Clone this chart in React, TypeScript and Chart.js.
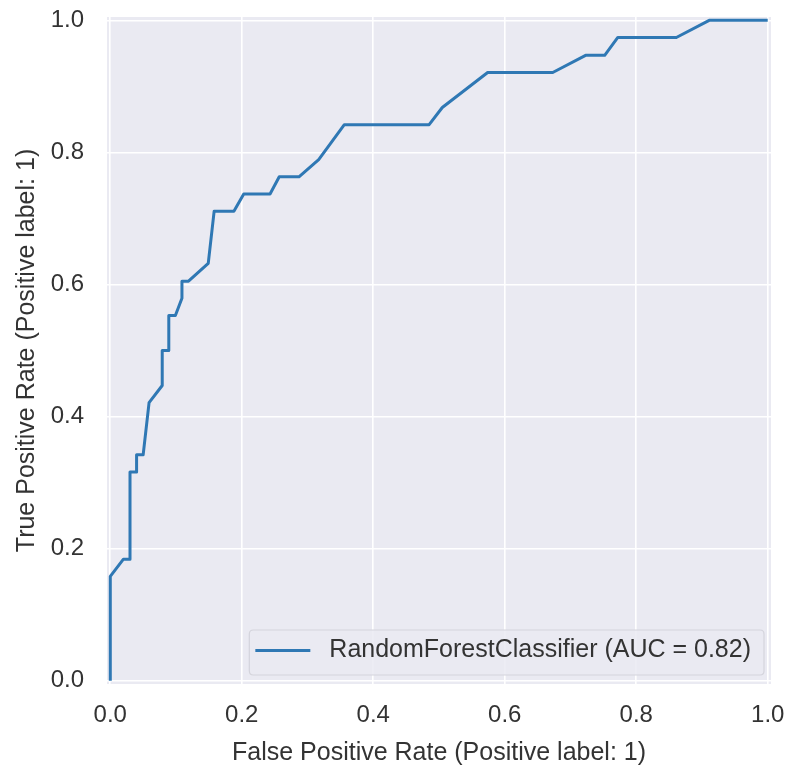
import React, { useEffect, useRef } from "react";
import { Chart, registerables } from "chart.js";

Chart.register(...registerables);

// ROC curve points
const fpr = [0, 0, 0.020, 0.030, 0.030, 0.040, 0.040, 0.050, 0.059, 0.079, 0.079, 0.089, 0.089, 0.099, 0.109, 0.109, 0.119, 0.149, 0.158, 0.188, 0.203, 0.243, 0.257, 0.287, 0.317, 0.356, 0.485, 0.505, 0.574, 0.673, 0.723, 0.752, 0.772, 0.861, 0.911, 1.0];
const tpr = [0, 0.158, 0.184, 0.184, 0.316, 0.316, 0.342, 0.342, 0.421, 0.447, 0.500, 0.500, 0.553, 0.553, 0.579, 0.605, 0.605, 0.632, 0.711, 0.711, 0.737, 0.737, 0.763, 0.763, 0.789, 0.842, 0.842, 0.868, 0.921, 0.921, 0.947, 0.947, 0.974, 0.974, 1.0, 1.0];

const xTickValues = [0, 0.2, 0.4, 0.6, 0.8, 1.0];
const yTickValues = [0, 0.2, 0.4, 0.6, 0.8, 1.0];

const seriesLabel = "RandomForestClassifier (AUC = 0.82)";
const xTitle = "False Positive Rate (Positive label: 1)";
const yTitle = "True Positive Rate (Positive label: 1)";

const FONT = "'Liberation Sans', Arial, sans-serif";
const TEXT = "#333333";
const LINE = "#2f78b4";

const bgPlugin = {
  id: "bgPlugin",
  beforeDraw(chart: any) {
    const { ctx, chartArea, width, height } = chart;
    ctx.save();
    ctx.fillStyle = "#ffffff";
    ctx.fillRect(0, 0, width, height);
    ctx.fillStyle = "#eaeaf2";
    ctx.fillRect(chartArea.left, chartArea.top, chartArea.right - chartArea.left, chartArea.bottom - chartArea.top);
    ctx.restore();
  },
};

const legendPlugin = {
  id: "legendInside",
  afterDraw(chart: any) {
    const { ctx, chartArea } = chart;
    const ds = chart.data.datasets[0];
    ctx.save();
    ctx.font = `25px ${FONT}`;
    const tw = ctx.measureText(ds.label).width;
    const boxRight = chartArea.right - 7;
    const boxBottom = chartArea.bottom - 9;
    const boxTop = boxBottom - 45;
    const textX = boxRight - 13 - tw;
    const boxLeft = textX - 80;
    const cy = (boxTop + boxBottom) / 2 - 2;
    const r = 4;
    ctx.beginPath();
    ctx.moveTo(boxLeft + r, boxTop);
    ctx.lineTo(boxRight - r, boxTop);
    ctx.quadraticCurveTo(boxRight, boxTop, boxRight, boxTop + r);
    ctx.lineTo(boxRight, boxBottom - r);
    ctx.quadraticCurveTo(boxRight, boxBottom, boxRight - r, boxBottom);
    ctx.lineTo(boxLeft + r, boxBottom);
    ctx.quadraticCurveTo(boxLeft, boxBottom, boxLeft, boxBottom - r);
    ctx.lineTo(boxLeft, boxTop + r);
    ctx.quadraticCurveTo(boxLeft, boxTop, boxLeft + r, boxTop);
    ctx.closePath();
    ctx.fillStyle = "rgba(234,234,242,0.85)";
    ctx.fill();
    ctx.strokeStyle = "#d4d4dc";
    ctx.lineWidth = 1.2;
    ctx.stroke();
    ctx.beginPath();
    ctx.moveTo(textX - 74, cy);
    ctx.lineTo(textX - 19, cy);
    ctx.strokeStyle = ds.borderColor;
    ctx.lineWidth = 3;
    ctx.stroke();
    ctx.fillStyle = TEXT;
    ctx.textBaseline = "middle";
    ctx.textAlign = "left";
    ctx.fillText(ds.label, textX, cy);
    ctx.restore();
  },
};

export default function App() {
  const ref = useRef<HTMLCanvasElement | null>(null);
  useEffect(() => {
    if (!ref.current) return;
    const chart = new Chart(ref.current, {
      type: "line",
      data: {
        datasets: [
          {
            label: seriesLabel,
            data: fpr.map((x, i) => ({ x, y: tpr[i] })),
            borderColor: LINE,
            borderWidth: 3,
            pointRadius: 0,
            tension: 0,
            fill: false,
            borderJoinStyle: "round",
          } as any,
        ],
      },
      options: {
        animation: false,
        responsive: false,
        maintainAspectRatio: false,
        layout: { padding: { left: 0, right: 20, top: 17, bottom: 0 } },
        plugins: { legend: { display: false }, tooltip: { enabled: false } },
        scales: {
          x: {
            type: "linear",
            min: -0.005,
            max: 1.005,
            afterBuildTicks: (s: any) => {
              s.ticks = xTickValues.map((v) => ({ value: v }));
            },
            afterFit: (s: any) => {
              s.height = 86;
              s.paddingLeft = 0;
              s.paddingRight = 0;
            },
            ticks: {
              padding: 17,
              color: TEXT,
              font: { family: FONT, size: 24 },
              callback: (v: any) => Number(v).toFixed(1),
              maxRotation: 0,
            },
            grid: { color: "#ffffff", lineWidth: 1.6, drawTicks: false },
            border: { display: false },
            title: {
              display: true,
              text: xTitle,
              color: TEXT,
              font: { family: FONT, size: 25 },
              padding: { top: 0, bottom: 2 },
            },
          },
          y: {
            type: "linear",
            min: -0.005,
            max: 1.005,
            afterBuildTicks: (s: any) => {
              s.ticks = yTickValues.map((v) => ({ value: v }));
            },
            afterFit: (s: any) => {
              s.width = 107;
              s.paddingTop = 0;
              s.paddingBottom = 0;
            },
            ticks: {
              padding: 23,
              color: TEXT,
              font: { family: FONT, size: 24 },
              callback: (v: any) => Number(v).toFixed(1),
            },
            grid: { color: "#ffffff", lineWidth: 1.6, drawTicks: false },
            border: { display: false },
            title: {
              display: true,
              text: yTitle,
              color: TEXT,
              font: { family: FONT, size: 25 },
              padding: { top: 12, bottom: 0 },
            },
          },
        },
      },
      plugins: [bgPlugin, legendPlugin],
    });
    return () => chart.destroy();
  }, []);
  return (
    <div style={{ position: "fixed", left: 0, top: 0, width: 791, height: 770, background: "#fff" }}>
      <canvas ref={ref} width={791} height={770} style={{ display: "block", width: 791, height: 770 }} />
    </div>
  );
}
